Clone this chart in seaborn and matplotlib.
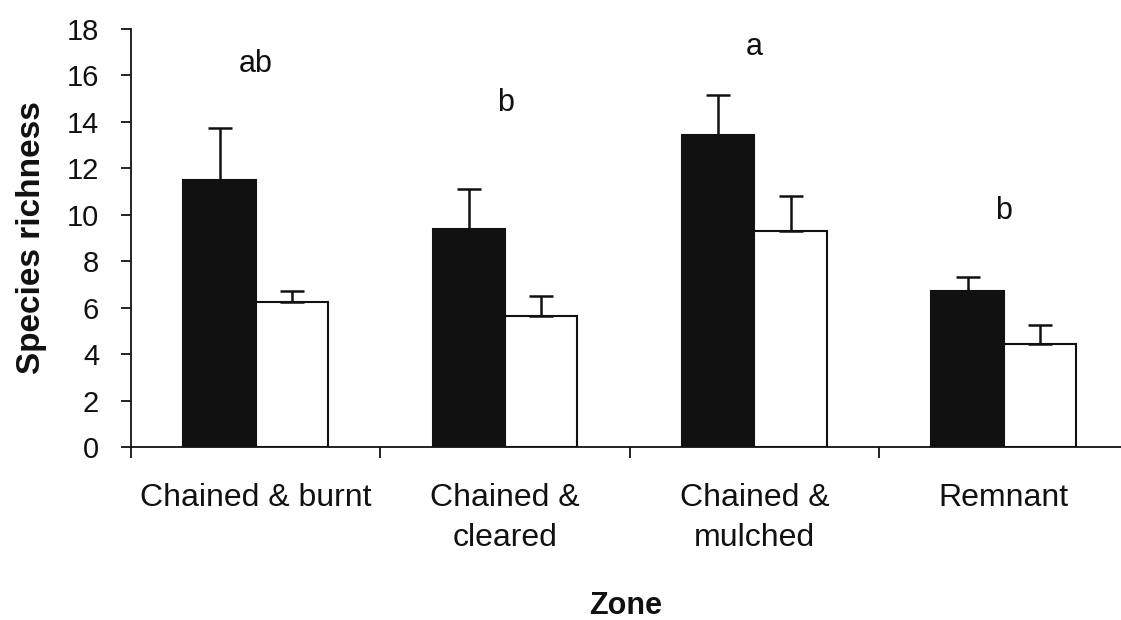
import matplotlib
matplotlib.use("Agg")
import matplotlib.pyplot as plt
import seaborn as sns
import pandas as pd
import numpy as np
from matplotlib.ticker import FixedLocator, NullFormatter

zones = ["Chained & burnt", "Chained &\ncleared", "Chained &\nmulched", "Remnant"]
series = ["Series 1", "Series 2"]
means_s1 = [11.5, 9.4, 13.45, 6.7]
means_s2 = [6.25, 5.65, 9.3, 4.45]
err_s1 = [2.25, 1.7, 1.7, 0.6]
err_s2 = [0.45, 0.85, 1.5, 0.8]
letters = ["ab", "b", "a", "b"]
letter_y = [16.15, 14.45, 16.9, 9.8]

df = pd.DataFrame({
    "zone": zones * 2,
    "series": [series[0]] * 4 + [series[1]] * 4,
    "value": means_s1 + means_s2,
})

sns.set_theme(style="white")
plt.rcParams["font.family"] = ["Liberation Sans", "DejaVu Sans"]

fig = plt.figure(figsize=(11.21, 6.2), dpi=100)
ax = fig.add_axes([131 / 1121, (620 - 447) / 620, 1 - 131 / 1121, (447 - 29) / 620])

sns.barplot(data=df, x="zone", y="value", hue="series", order=zones, hue_order=series,
            palette=["#111111", "#ffffff"], width=0.58, errorbar=None, saturation=1,
            edgecolor="#111111", linewidth=1.5, legend=False, ax=ax)

errs = [err_s1, err_s2]
for cont, e in zip(ax.containers, errs):
    xs = [b.get_x() + b.get_width() / 2 for b in cont]
    hs = [b.get_height() for b in cont]
    ax.errorbar(xs, hs, yerr=[np.zeros(len(e)), e], fmt="none", ecolor="#111111",
                elinewidth=1.8, capsize=8.6, capthick=1.8, zorder=1)

for i, (t, y) in enumerate(zip(letters, letter_y)):
    ax.text(i, y, t, ha="center", va="baseline", fontsize=22, color="#111111")

ax.set_xlim(-0.5, 3.47)
ax.set_ylim(0, 18)
ax.set_yticks(np.arange(0, 19, 2))
ax.tick_params(axis="y", labelsize=21, length=7, width=1.3, color="#111111",
               pad=16, left=True, labelcolor="#111111")

ax.xaxis.set_major_locator(FixedLocator([-0.5, 0.5, 1.5, 2.5]))
ax.xaxis.set_major_formatter(NullFormatter())
ax.xaxis.set_minor_locator(FixedLocator([0, 1, 2, 3]))
ax.set_xticklabels(zones, minor=True)
ax.tick_params(axis="x", which="major", length=8, width=1.3, color="#111111", bottom=True)
ax.tick_params(axis="x", which="minor", length=0, labelsize=23, pad=26, labelcolor="#111111")
for lab in ax.get_xticklabels(minor=True):
    lab.set_linespacing(1.45)

ax.set_xlabel("Zone", fontsize=22, fontweight="bold", color="#111111")
ax.xaxis.set_label_coords(0.5, -0.345)
ax.set_ylabel("Species richness", fontsize=24, fontweight="bold", labelpad=14, color="#111111")

for s in ["top", "right"]:
    ax.spines[s].set_visible(False)
for s in ["left", "bottom"]:
    ax.spines[s].set_color("#111111")
    ax.spines[s].set_linewidth(1.3)

fig.savefig("out.png", dpi=100, facecolor="white")
